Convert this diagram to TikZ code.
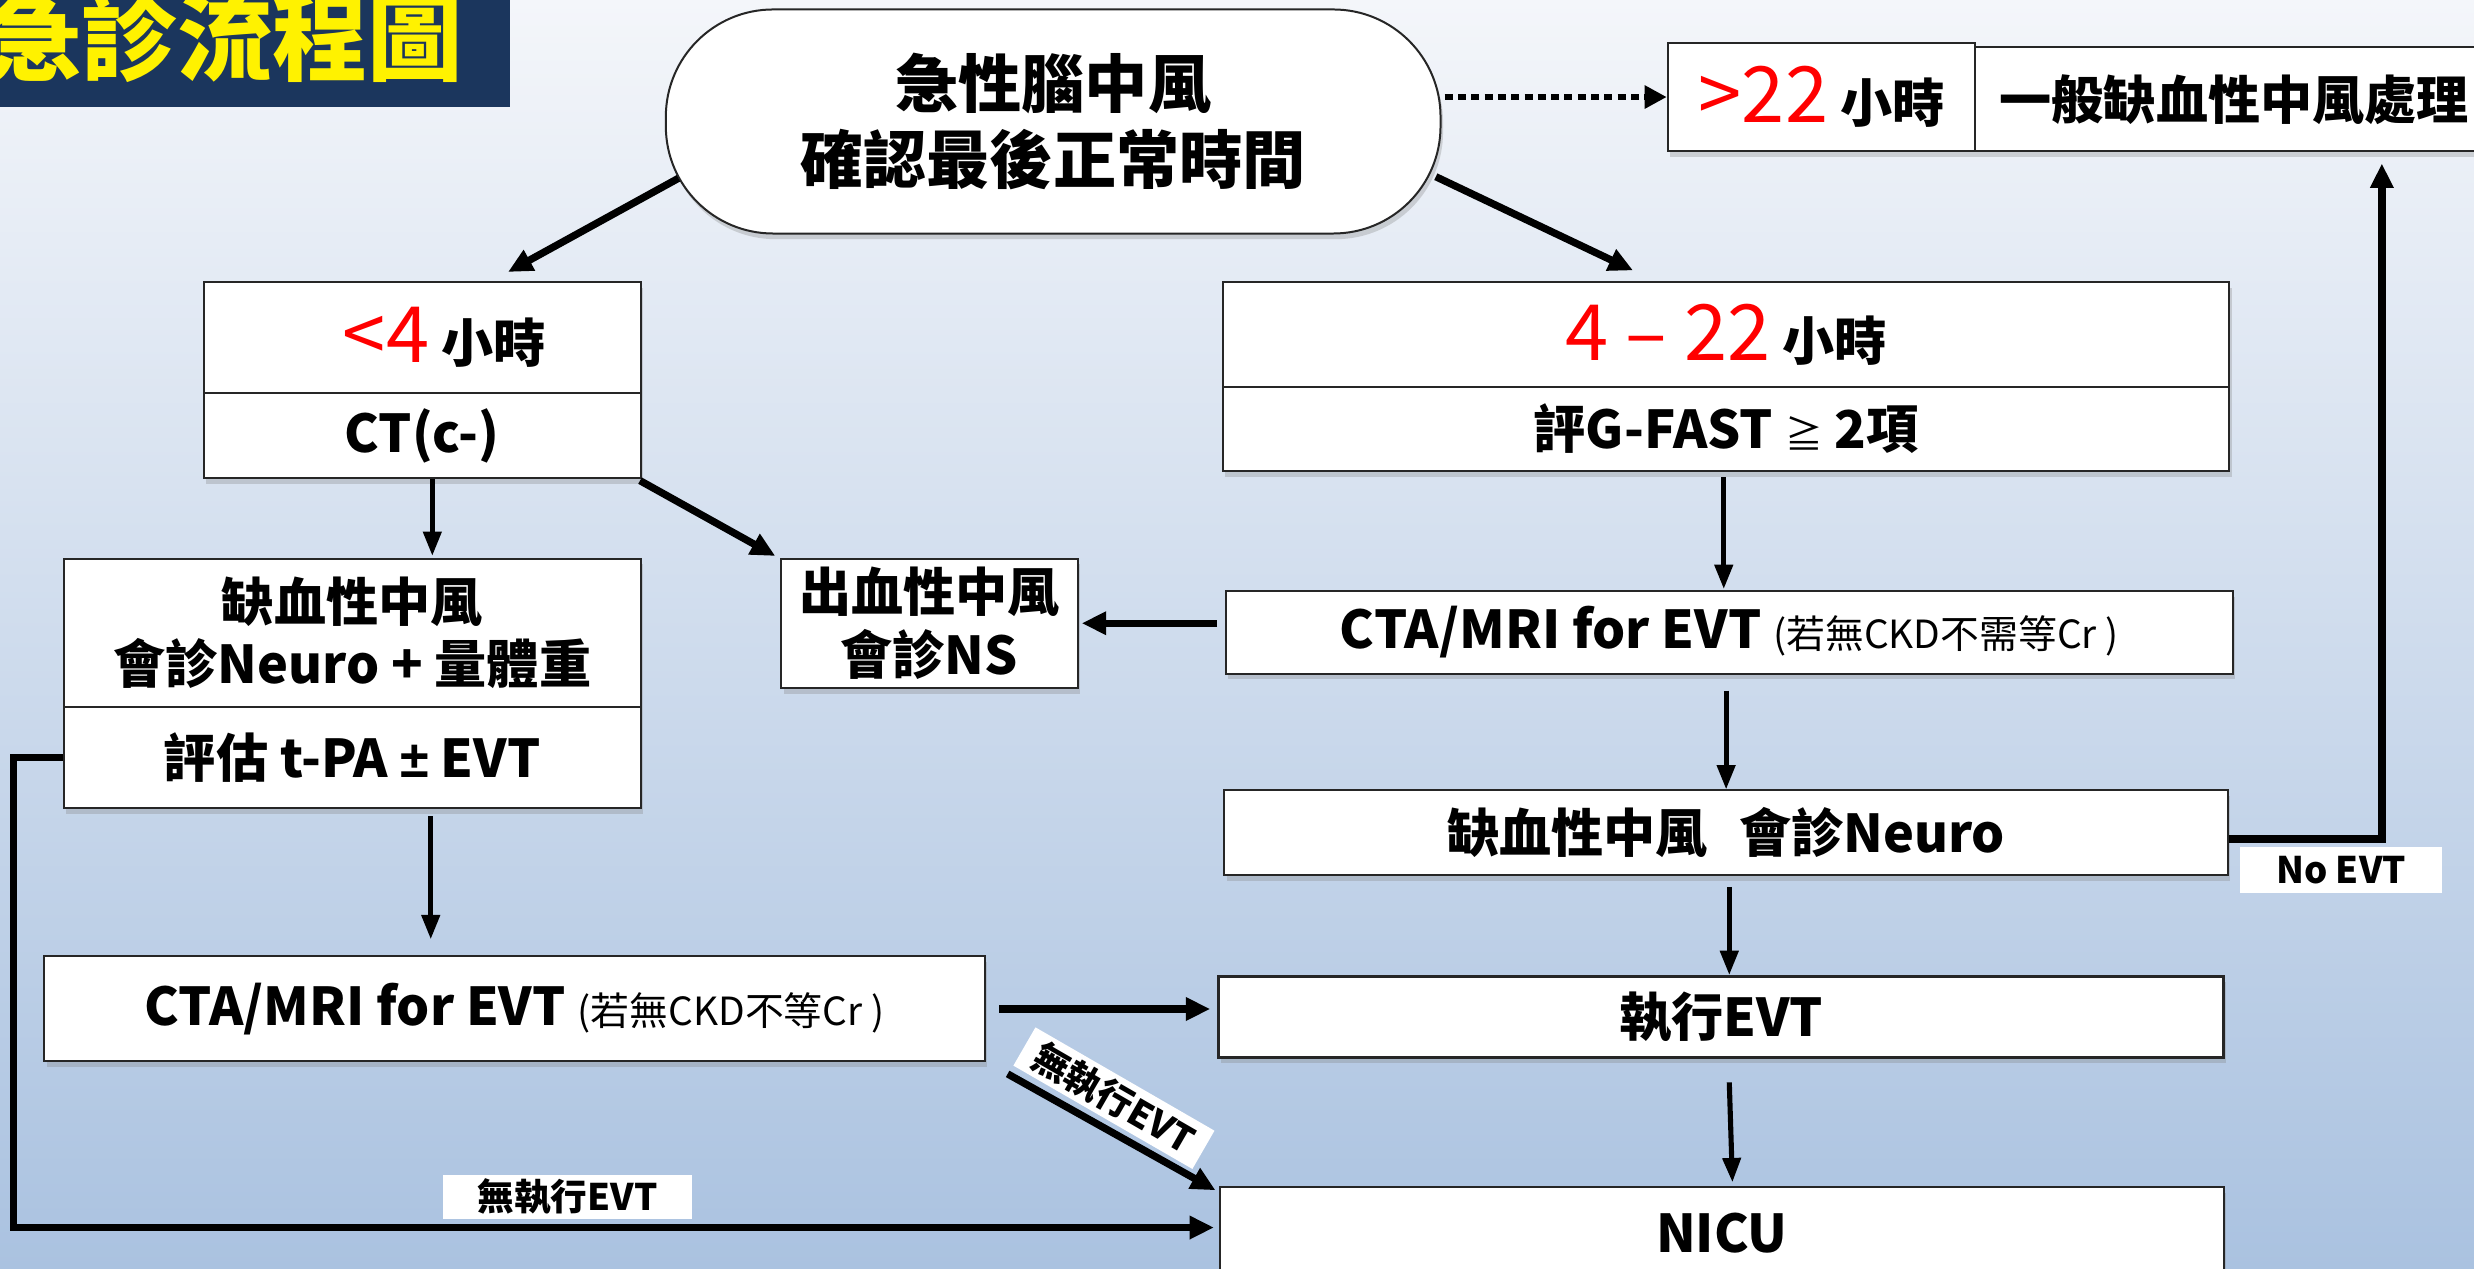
\documentclass[tikz,border=0pt]{standalone}
\usepackage{fontspec}
\setmainfont{Noto Sans CJK TC}
\newfontfamily\latinpm{Liberation Sans}
\usetikzlibrary{arrows.meta,shadows,calc}
\definecolor{navy}{HTML}{1B365D}
\definecolor{bgtop}{HTML}{F4F6FA}
\definecolor{bgbot}{HTML}{AAC2E0}
\newcommand\fzA{\fontsize{23.5pt}{28pt}\selectfont\bfseries}
\newcommand\fzO{\fontsize{28.5pt}{34pt}\selectfont\bfseries}
\newcommand\fzT{\fontsize{43pt}{50pt}\selectfont\bfseries}
\newcommand\fzR{\fontsize{35pt}{40pt}\selectfont\mdseries}
\newcommand\fzP{\fontsize{17.5pt}{20pt}\selectfont\mdseries}
\newcommand\fzL{\fontsize{16.5pt}{20pt}\selectfont\bfseries}
\newcommand\fzS{\fontsize{17pt}{20pt}\selectfont\mdseries}
\begin{document}
\begin{tikzpicture}[x=0.25mm, y=-0.25mm,
  every node/.style={font=\fzA},
  box/.style={draw=black!85, line width=0.9pt, fill=white, inner sep=0pt,
    drop shadow={opacity=0.3, shadow xshift=0.4mm, shadow yshift=-0.9mm}},
  sz/.style 2 args={minimum width=#1*0.25mm, minimum height=#2*0.25mm},
  txt/.style={inner sep=0pt, align=center},
  thinarr/.style={line width=2.3pt, -{Triangle[length=11pt,width=8pt]}},
  thickarr/.style={line width=3.3pt, -{Triangle[length=11pt,width=10pt]}},
  dotarr/.style={line width=3pt, dash pattern=on 3.6pt off 2.4pt, -{Triangle[length=10pt,width=10pt]}},
  lbl/.style={fill=white, inner sep=0pt, font=\fzL}
]
\clip (0,0) rectangle (1568,804);
\shade[top color=bgtop, bottom color=bgbot] (0,0) rectangle (1568,804);

% title
\fill[navy] (0,0) rectangle (323,68);
\begin{scope}
\clip (0,0) rectangle (323,68);
\node[anchor=base west, inner sep=0pt, text=yellow, font=\fzT] (title) at (-9,46.5) {急診流程圖};
\end{scope}

% nodes
\node[box, sz={491}{142}, rounded corners=17mm, align=center, font=\fzO] (oval) at (667.5,77) {急性腦中風\\確認最後正常時間};
\node[box, sz={195}{69}] (g22) at (1154.5,61.5) {{\color{red}\fzR >22} 小時};
\node[box, sz={328}{66}] (gen) at (1416,63) {一般缺血性中風處理};

\node[box, sz={277}{70}] (lt) at (267.5,214) {};
\node[txt] (ltt) at (281.5,214) {{\color{red}\fzR <4} 小時};
\node[box, sz={277}{54}] (ct) at (267.5,276) {CT(c-)};

\node[box, sz={638}{66}] (mt) at (1094,212) {{\color{red}\fzR 4 – 22} 小時};
\node[box, sz={638}{53.5}] (gf) at (1094,271.75) {評G-FAST {\fzS ≧} 2項};

\node[box, sz={365.5}{94}, align=center] (isc) at (223.25,401) {缺血性中風\\會診Neuro + 量體重};
\node[box, sz={365.5}{64}] (eva) at (223.25,480) {評估 t-PA {\latinpm ±} EVT};
\node[box, sz={188}{82}, align=center] (hem) at (589,395) {出血性中風\\會診NS};

\node[box, sz={638}{52.5}] (cta1) at (1096,400.75) {CTA/MRI for EVT {\fzP (若無CKD不需等Cr )}};
\node[box, sz={636}{53.5}] (neu) at (1094,527.75) {缺血性中風\hspace{0.6em}會診Neuro};
\node[box, sz={637.5}{51}, line width=1.4pt] (evt) at (1090.75,644.5) {執行EVT};
\node[box, sz={636.5}{57.5}] (nicu) at (1091.25,781.25) {NICU};
\node[box, sz={596}{66.5}] (cta2) at (326,639.25) {CTA/MRI for EVT {\fzP (若無CKD不等Cr )}};

% connectors
\draw[thickarr] ($(oval.center)+(-237.5,36)$) -- ($(lt.north)+(54.5,-6)$);
\draw[thickarr] ($(oval.center)+(242.5,35)$) -- ($(mt.north)+(-59,-7)$);
\draw[dotarr] ($(oval.east|-g22.west)+(2,0)$) -- (g22.west);
\draw[thinarr] ($(ct.south)+(6.5,0)$) -- ($(isc.north)+(50.75,-1)$);
\draw[thickarr] ($(ct.south east)+(-1,1)$) -- ($(hem.north west)+(-3,-1)$);
\draw[thinarr] ($(eva.south)+(49.75,4.6)$) -- ($(cta2.north)+(-53,-10)$);
\draw[thinarr] ($(gf.south)+(-1.5,3.5)$) -- ($(cta1.north)+(-3.5,-0.5)$);
\draw[thickarr] ($(cta1.west)+(-5,-5.75)$) -- ($(hem.east)+(2,0)$);
\draw[thinarr] ($(cta1.south)+(-2,10)$) -- (neu.north);
\draw[thickarr] ($(neu.east)+(0,4)$) -| ($(gen.south)+(93.6,7)$);
\draw[thinarr] ($(neu.south)+(2,7)$) -- ($(evt.north)+(5.25,0)$);
\draw[thinarr] ($(evt.south)+(5.25,15)$) -- ($(nicu.north)+(6.75,-2.5)$);
\draw[thickarr] ($(cta2.east)+(8.6,0.25)$) -- ($(evt.west)+(-4,-5)$);
\draw[thickarr] ($(cta2.south east)+(14,7.5)$) -- ($(nicu.north west)+(-2,2.5)$);
\draw[thickarr] (eva.west) -- ++(-31.5,0) |- ($(nicu.west)+(-3,-3.25)$);

% labels
\node[lbl, sz={128.4}{29}] (noevt) at (1483.8,551.5) {No EVT};
\node[lbl, sz={157.6}{28}] (ne1) at (359.8,758.5) {無執行EVT};
\node[lbl, sz={131}{28}, rotate=-30] (ne2) at (706,696) {無執行EVT};
\end{tikzpicture}
\end{document}
